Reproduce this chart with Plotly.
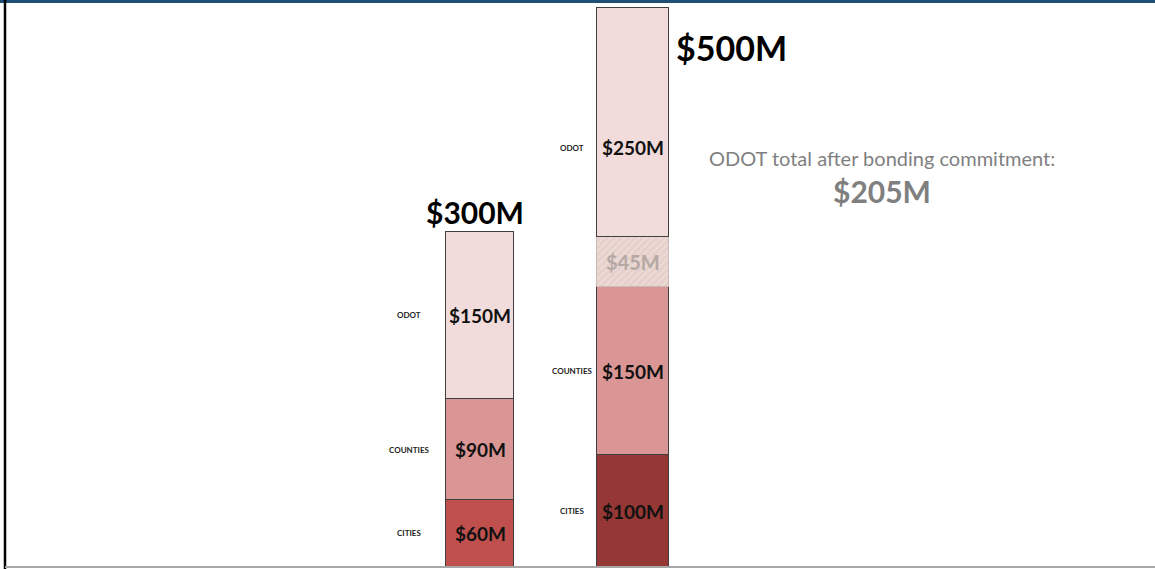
import plotly.graph_objects as go

# ---- data ----
bars = ["Before", "After"]
totals = [300, 500]
cities = [60, 100]
counties = [90, 150]
odot = [150, 250]
bonding = [0, 45]          # portion of ODOT committed to bonding
odot_after_bonding = 205
total_labels = ["$300M", "$500M"]
city_labels = ["$60M", "$100M"]
county_labels = ["$90M", "$150M"]
odot_labels = ["$150M", "$250M"]
bonding_label = "$45M"
segment_names = ["ODOT", "COUNTIES", "CITIES"]

# ---- layout helpers (positions/styles) ----
xpos = [480, 633]
widths = [68, 72]
label_offsets = [37, 25]
odot_solid = [o - b for o, b in zip(odot, bonding)]
FONT = "Lato"

fig = go.Figure()
fig.add_trace(go.Bar(x=xpos, y=cities, width=widths,
                     marker=dict(color=["#c0504d", "#953735"], line=dict(color="#3f3f3f", width=1)),
                     hoverinfo="skip"))
fig.add_trace(go.Bar(x=xpos, y=counties, width=widths,
                     marker=dict(color="#d99694", line=dict(color="#3f3f3f", width=1)),
                     hoverinfo="skip"))
fig.add_trace(go.Bar(x=[xpos[1]], y=[bonding[1]], width=[widths[1]],
                     marker=dict(color="#e8d3ce", line=dict(color="#c9b8b4", width=1),
                                 pattern=dict(shape="/", fgcolor="#f4e7e4", bgcolor="#e6d0cb",
                                              size=5, solidity=0.35)),
                     hoverinfo="skip"))
fig.add_trace(go.Bar(x=xpos, y=odot_solid, width=widths,
                     marker=dict(color="#f2dcdb", line=dict(color="#3f3f3f", width=1)),
                     hoverinfo="skip"))

ann = []
for i in range(2):
    x = xpos[i]
    c_mid = cities[i] / 2
    co_mid = cities[i] + counties[i] / 2
    o_mid = cities[i] + counties[i] + odot[i] / 2
    seg_font = dict(family=FONT, size=19, color="#111111", weight="bold")
    ann.append(dict(x=x, y=c_mid, text=city_labels[i], showarrow=False, font=seg_font))
    ann.append(dict(x=x, y=co_mid, text=county_labels[i], showarrow=False, font=seg_font))
    ann.append(dict(x=x, y=o_mid, text=odot_labels[i], showarrow=False, font=seg_font))
    lab_x = x - widths[i] / 2 - label_offsets[i]
    small = dict(family=FONT, size=8, color="#222222", weight="bold")
    for name, yv in zip(segment_names, [o_mid, co_mid, c_mid]):
        ann.append(dict(x=lab_x, y=yv, text=name, showarrow=False, font=small))
    if bonding[i]:
        ann.append(dict(x=x, y=cities[i] + counties[i] + bonding[i] / 2, text=bonding_label,
                        showarrow=False, font=dict(family=FONT, size=20, color="#b5a8a5", weight="bold")))

# totals
ann.append(dict(x=xpos[0], y=totals[0], text=total_labels[0], showarrow=False, yanchor="bottom",
                xshift=-5, yshift=0, font=dict(family=FONT, size=30, color="#000000", weight="bold")))
ann.append(dict(x=xpos[1] + widths[1] / 2 + 5, y=totals[1], text=total_labels[1], showarrow=False,
                xanchor="left", yanchor="top", yshift=-17,
                font=dict(family=FONT, size=34, color="#000000", weight="bold")))
# right-side note
ann.append(dict(x=882, y=0, yref="paper", yanchor="middle", text="ODOT total after bonding commitment:",
                showarrow=False, yshift=409, font=dict(family=FONT, size=20, color="#7f7f7f")))
ann.append(dict(x=882, y=0, yref="paper", yanchor="middle", text=f"${odot_after_bonding}M",
                showarrow=False, yshift=376, font=dict(family=FONT, size=30, color="#7f7f7f", weight="bold")))

shapes = [
    dict(type="rect", xref="paper", yref="paper", x0=0, x1=1, y0=1 - 3 / 567, y1=1.01,
         fillcolor="#1f4e79", line=dict(width=0), layer="above"),
    dict(type="line", xref="paper", yref="paper", x0=5 / 1155, x1=5 / 1155, y0=-0.01, y1=1,
         line=dict(color="#000000", width=2.5)),
    dict(type="line", xref="paper", yref="paper", x0=5 / 1155, x1=1, y0=0, y1=0,
         line=dict(color="#a6a6a6", width=2)),
]

fig.update_layout(
    barmode="stack", bargap=0, showlegend=False,
    width=1155, height=569,
    margin=dict(l=0, r=0, t=0, b=2, pad=0),
    paper_bgcolor="white", plot_bgcolor="white",
    xaxis=dict(range=[0, 1155], visible=False, fixedrange=True),
    yaxis=dict(range=[0, 507], visible=False, fixedrange=True),
    annotations=ann, shapes=shapes,
)
fig.write_html("out.html", config={"displayModeBar": False})
